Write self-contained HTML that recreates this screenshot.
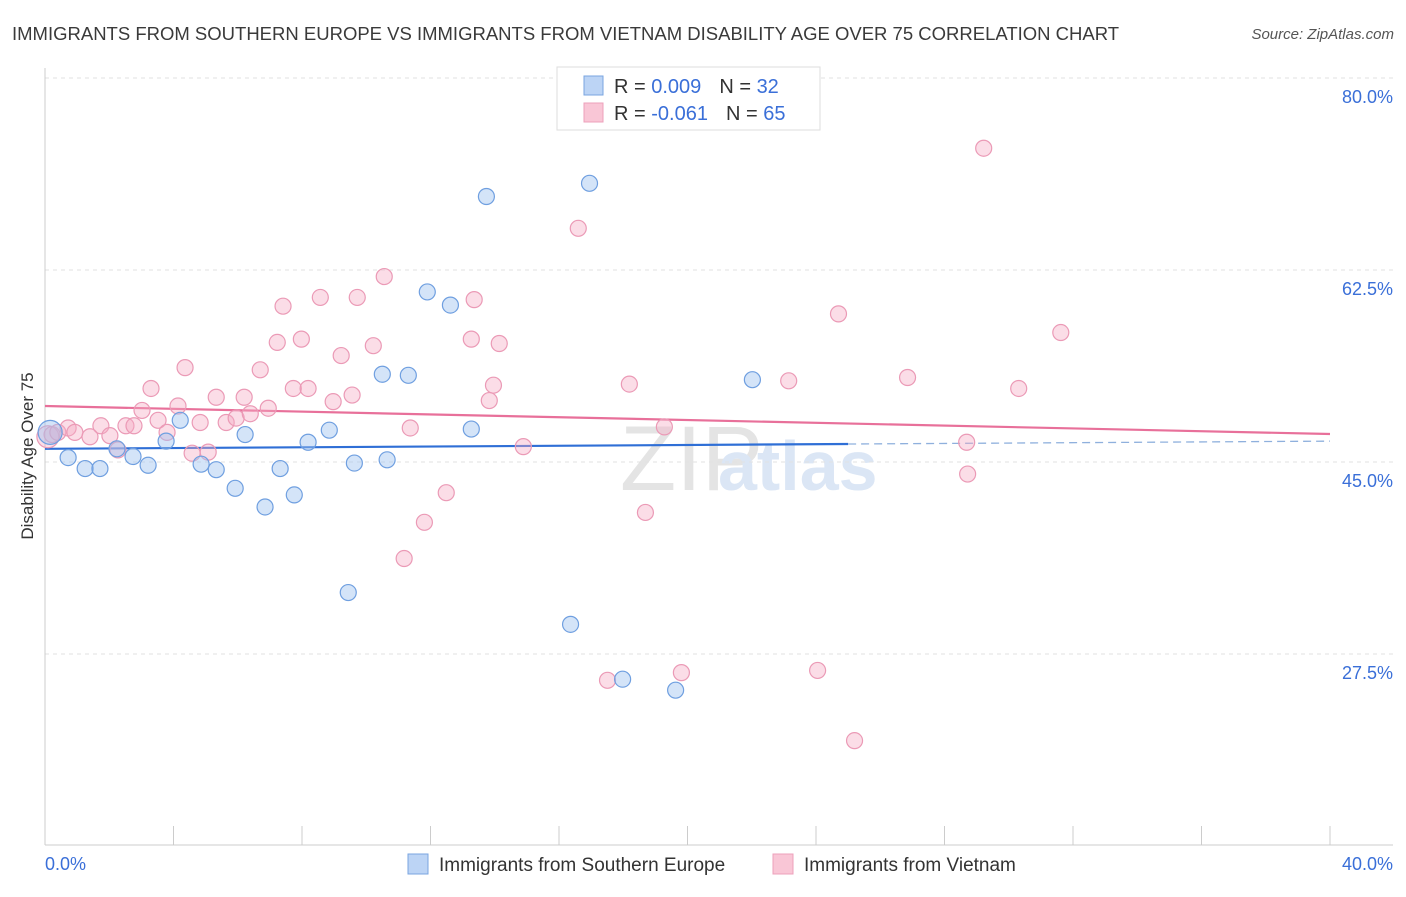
<!DOCTYPE html>
<html><head><meta charset="utf-8"><style>
body{margin:0;background:#fff;font-family:"Liberation Sans",sans-serif}
svg text{font-family:"Liberation Sans",sans-serif}
</style></head><body>
<svg width="1406" height="892" viewBox="0 0 1406 892" id="chart">
<text x="12" y="40" font-size="18.5" fill="#3a3a3a">IMMIGRANTS FROM SOUTHERN EUROPE VS IMMIGRANTS FROM VIETNAM DISABILITY AGE OVER 75 CORRELATION CHART</text>
<text x="1394" y="39" font-size="15" fill="#555" font-style="italic" text-anchor="end">Source: ZipAtlas.com</text>
<text x="620" y="490" font-size="92" fill="#e4e4e4" font-family="Liberation Serif">ZIP</text>
<text x="718" y="490" font-size="70" fill="#dbe6f5" font-weight="bold">atlas</text>
<g id="grid"></g><g id="axes"></g><g id="trend"></g><g id="pts"></g>
<text transform="translate(33,456) rotate(-90)" font-size="17" fill="#333" text-anchor="middle">Disability Age Over 75</text>
<g>
<rect x="557" y="67" width="263" height="63" fill="#fff" stroke="#ddd"/>
<rect x="584" y="76" width="19" height="19" fill="#bcd4f5" stroke="#7aa5e0"/>
<rect x="584" y="103" width="19" height="19" fill="#f9c6d6" stroke="#eda0bb"/>
<text x="614" y="93" font-size="20" fill="#333">R = <tspan fill="#3a6fd8"> 0.009</tspan><tspan dx="18">N = </tspan><tspan fill="#3a6fd8">32</tspan></text>
<text x="614" y="120" font-size="20" fill="#333">R = <tspan fill="#3a6fd8">-0.061</tspan><tspan dx="18">N = </tspan><tspan fill="#3a6fd8">65</tspan></text>
</g>
<g>
<rect x="408" y="854" width="20" height="20" fill="#bcd4f5" stroke="#7aa5e0"/>
<text x="439" y="871" font-size="19" fill="#333">Immigrants from Southern Europe</text>
<rect x="773" y="854" width="20" height="20" fill="#f9c6d6" stroke="#eda0bb"/>
<text x="804" y="871" font-size="19" fill="#333">Immigrants from Vietnam</text>
</g>
</svg>
<script>
const blueX=[0.16,0.72,1.25,1.71,2.24,2.74,3.21,3.77,4.21,4.86,5.33,5.92,6.23,6.85,7.32,7.76,8.19,8.85,9.44,9.63,10.5,10.65,11.31,11.9,12.62,13.27,13.74,16.36,16.95,17.98,19.63,22.02];
const blueY=[47.7,45.4,44.4,44.4,46.2,45.5,44.7,46.9,48.8,44.8,44.3,42.6,47.5,40.9,44.4,42.0,46.8,47.9,33.1,44.9,53.0,45.2,52.9,60.5,59.3,48.0,69.2,30.2,70.4,25.2,24.2,52.5];
const pinkX=[0.09,0.22,0.4,0.72,0.93,1.4,1.74,2.02,2.27,2.52,2.77,3.02,3.3,3.52,3.8,4.14,4.36,4.58,4.83,5.08,5.33,5.64,5.95,6.2,6.39,6.7,6.95,7.23,7.41,7.73,7.98,8.19,8.57,8.97,9.22,9.56,9.72,10.22,10.56,11.18,11.37,11.81,12.49,13.27,13.36,13.83,13.96,14.14,14.89,16.6,17.51,18.19,18.69,19.28,19.81,23.15,24.05,24.7,25.2,26.85,28.69,28.72,29.22,30.31,31.62];
const pinkY=[47.3,47.5,47.7,48.1,47.7,47.3,48.3,47.4,46.1,48.3,48.3,49.7,51.7,48.8,47.7,50.1,53.6,45.8,48.6,45.9,50.9,48.6,49.0,50.9,49.4,53.4,49.9,55.9,59.2,51.7,56.2,51.7,60.0,50.5,54.7,51.1,60.0,55.6,61.9,36.2,48.1,39.5,42.2,56.2,59.8,50.6,52.0,55.8,46.4,66.3,25.1,52.1,40.4,48.2,25.8,52.4,26.0,58.5,19.6,52.7,46.8,43.9,73.6,51.7,56.8];
const yTicks=[80,62.5,45,27.5];
const yTickLabels=["80.0%","62.5%","45.0%","27.5%"];
const blueTrend=[46.2,46.9];
const pinkTrend=[50.1,47.55];
const NS='http://www.w3.org/2000/svg';
const sx=v=>45+v*32.125, sy=v=>78+(80-v)*10.971;
function mk(tag,attrs,parent){const e=document.createElementNS(NS,tag);for(const k in attrs)e.setAttribute(k,attrs[k]);document.getElementById(parent).appendChild(e);return e;}
yTicks.forEach((t,i)=>{
 let l=mk('line',{x1:45,x2:1393,y1:sy(t),y2:sy(t),stroke:'#e2e2e2','stroke-dasharray':'4,4'},'grid');
 
 
 let tx=mk('text',{x:1393,y:sy(t)+25,'font-size':18,fill:'#3a6fd8','text-anchor':'end'},'grid');tx.textContent=yTickLabels[i];
 
 
});
let ax=mk('line',{x1:45,x2:45,y1:68,y2:845,stroke:'#ccc'},'axes');


let bx=mk('line',{x1:45,x2:1393,y1:845,y2:845,stroke:'#ccc'},'axes');


for(let i=0;i<=10;i++){let t=mk('line',{x1:sx(i*4),x2:sx(i*4),y1:826,y2:845,stroke:'#ccc'},'axes');
 
 }
[[0,"0.0%","start",45],[40,"40.0%","end",1393]].forEach(a=>{let t=mk('text',{x:a[3],y:870,'font-size':18,fill:'#3a6fd8','text-anchor':a[2]},'axes');t.textContent=a[1];
 
 });
const bm=blueTrend[0]+(blueTrend[1]-blueTrend[0])*25/40;
let b1=mk('line',{x1:sx(0),y1:sy(blueTrend[0]),x2:sx(25),y2:sy(bm),stroke:'#2f6fd6','stroke-width':2.2},'trend');


let b2=mk('line',{x1:sx(25),y1:sy(bm),x2:sx(40),y2:sy(blueTrend[1]),stroke:'#8fb0dd','stroke-width':1.3,'stroke-dasharray':'8,5'},'trend');


let p1=mk('line',{x1:sx(0),y1:sy(pinkTrend[0]),x2:sx(40),y2:sy(pinkTrend[1]),stroke:'#e8709a','stroke-width':2.2},'trend');


pinkX.forEach((x,i)=>{let c=mk('circle',{cx:sx(x),cy:sy(pinkY[i]),r:i==0?11:8,fill:'rgba(245,170,195,0.4)',stroke:'#eb9ab6','stroke-width':1.2},'pts');
 
 });
blueX.forEach((x,i)=>{let c=mk('circle',{cx:sx(x),cy:sy(blueY[i]),r:i==0?12:8,fill:'rgba(160,195,240,0.45)',stroke:'#6f9fe0','stroke-width':1.2},'pts');
 
 });
</script>
</body></html>
